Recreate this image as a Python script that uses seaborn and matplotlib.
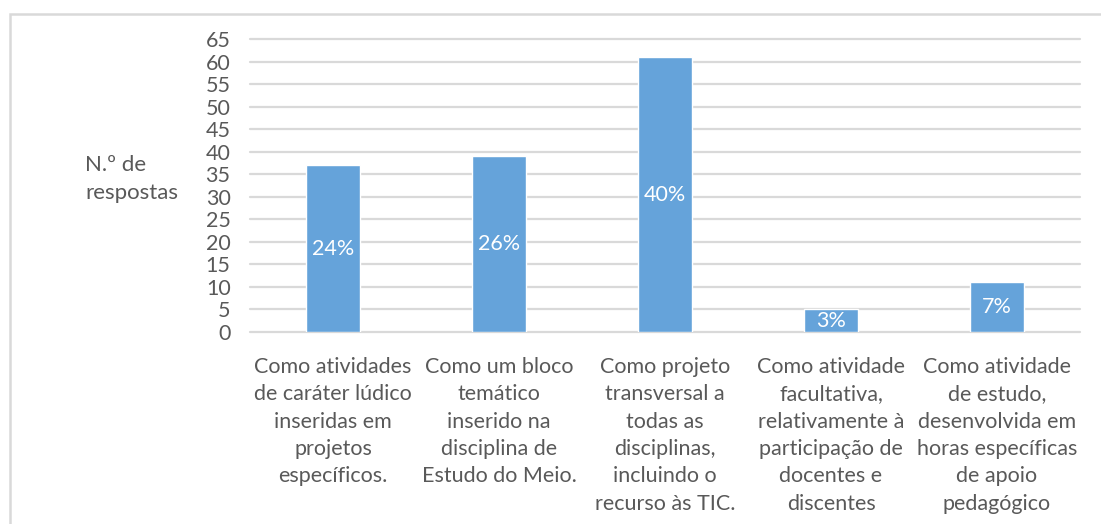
import matplotlib
matplotlib.use("Agg")
import matplotlib.pyplot as plt
import seaborn as sns
import pandas as pd
from matplotlib.patches import Rectangle

# Data
categories = [
    "Como atividades\nde caráter lúdico\ninseridas em\nprojetos\nespecíficos.",
    "Como um bloco\ntemático\ninserido na\ndisciplina de\nEstudo do Meio.",
    "Como projeto\ntransversal a\ntodas as\ndisciplinas,\nincluindo o\nrecurso às TIC.",
    "Como atividade\nfacultativa,\nrelativamente à\nparticipação de\ndocentes e\ndiscentes",
    "Como atividade\nde estudo,\ndesenvolvida em\nhoras específicas\nde apoio\npedagógico",
]
respostas = [37, 39, 61, 5, 11]
percent_labels = ["24%", "26%", "40%", "3%", "7%"]
y_ticks = list(range(0, 66, 5))

df = pd.DataFrame({"Categoria": categories, "Respostas": respostas})

sns.set_style("white")
plt.rcParams["font.family"] = ["Lato", "DejaVu Sans"]

text_color = "#595959"
bar_color = "#65A3DA"
grid_color = "#D9D9D9"
fs = 15.5

fig = plt.figure(figsize=(11.01, 5.24), dpi=100)
ax = fig.add_axes([250 / 1101, 1 - 332 / 524, 830 / 1101, (332 - 39) / 524])

sns.barplot(data=df, x="Categoria", y="Respostas", color=bar_color,
            width=0.33, saturation=1, ax=ax, zorder=3)

ax.set_ylim(0, 65)
ax.set_yticks(y_ticks)
ax.set_xlim(-0.5, len(categories) - 0.5)
ax.grid(axis="y", color=grid_color, linewidth=1.6, zorder=0)
for line in ax.get_ygridlines():
    line.set_clip_on(False)
for s in ax.spines.values():
    s.set_visible(False)

ax.tick_params(axis="y", length=0, pad=14, labelsize=fs, labelcolor=text_color)
ax.tick_params(axis="x", length=0, pad=18, labelsize=fs, labelcolor=text_color)
for lbl in ax.get_xticklabels():
    lbl.set_linespacing(1.46)
ax.set_xlabel("")
ax.set_ylabel("")

ax.bar_label(ax.containers[0], labels=percent_labels, label_type="center",
             color="white", fontsize=fs)

fig.text(85 / 1101, 1 - 179 / 524, "N.º de\nrespostas", ha="left", va="center",
         fontsize=16, color=text_color, linespacing=1.5)

# outer chart-area border (left and top visible)
fig.add_artist(Rectangle((10 / 1101, -0.1), 1.2, 1.1 - 14 / 524,
                         transform=fig.transFigure, fill=False,
                         edgecolor=grid_color, linewidth=1.8))

fig.savefig("out.png", dpi=100)
